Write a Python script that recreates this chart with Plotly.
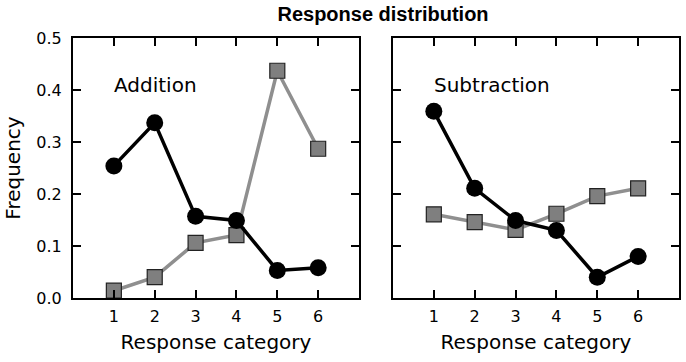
import plotly.graph_objects as go

categories = [1, 2, 3, 4, 5, 6]
add_circles = [0.254, 0.337, 0.157, 0.149, 0.053, 0.058]
add_squares = [0.014, 0.040, 0.106, 0.121, 0.437, 0.287]
sub_circles = [0.359, 0.211, 0.149, 0.130, 0.040, 0.080]
sub_squares = [0.161, 0.146, 0.131, 0.162, 0.196, 0.211]
panel_labels = ["Addition", "Subtraction"]
y_ticks = [0.0, 0.1, 0.2, 0.3, 0.4, 0.5]

FONT = "DejaVu Sans"
fig = go.Figure()

panels = [(add_circles, add_squares, "x", "y"), (sub_circles, sub_squares, "x2", "y2")]
for circ, sq, xa, ya in panels:
    fig.add_trace(go.Scatter(
        x=categories, y=sq, xaxis=xa, yaxis=ya, mode="lines+markers",
        line=dict(color="#8f8f8f", width=3.5),
        marker=dict(symbol="square", size=15, color="#7f7f7f",
                    line=dict(color="#222222", width=1.2)),
        showlegend=False, cliponaxis=False))
    fig.add_trace(go.Scatter(
        x=categories, y=circ, xaxis=xa, yaxis=ya, mode="lines+markers",
        line=dict(color="black", width=3.5),
        marker=dict(symbol="circle", size=17, color="black"),
        showlegend=False, cliponaxis=False))

axis_common = dict(showline=True, mirror="ticks", linecolor="black", linewidth=2.2,
                   ticks="inside", ticklen=8, tickwidth=1.5, tickcolor="black",
                   showgrid=False, zeroline=False,
                   tickfont=dict(family=FONT, size=16, color="black"))

title_font = dict(family=FONT, size=20, color="black")
fig.update_layout(
    width=686, height=362,
    margin=dict(l=73, r=5, t=38, b=64),
    paper_bgcolor="white", plot_bgcolor="white",
    title=dict(text="<b>Response distribution</b>", x=383/686, xanchor="center",
               y=1 - 14/362, yanchor="middle",
               font=dict(family="Liberation Sans", size=20, color="black")),
    xaxis=dict(domain=[0, 0.472], range=[0, 7], tickvals=categories, ticklabelstandoff=3,
               **axis_common,
               title=dict(text="Response category", font=title_font, standoff=10)),
    xaxis2=dict(domain=[0.528, 1], range=[0, 7], tickvals=categories, anchor="y2",
                ticklabelstandoff=3, **axis_common,
                title=dict(text="Response category", font=title_font, standoff=10)),
    yaxis=dict(domain=[0, 1], range=[0, 0.5], tickvals=y_ticks, tickformat=".1f",
               ticklabelstandoff=6, **axis_common,
               title=dict(text="Frequency", font=title_font, standoff=10)),
    yaxis2=dict(domain=[0, 1], range=[0, 0.5], tickvals=y_ticks, showticklabels=False,
                anchor="x2", **axis_common),
)

for lab, xr, yr in zip(panel_labels, ["x", "x2"], ["y", "y2"]):
    fig.add_annotation(x=0.95, y=0.41, xref=xr, yref=yr, text=lab, showarrow=False,
                       xanchor="left", yanchor="middle",
                       font=dict(family=FONT, size=20, color="black"))

fig.write_html("out.html", config={"displayModeBar": False},
               post_script="document.body.style.margin='0';")
